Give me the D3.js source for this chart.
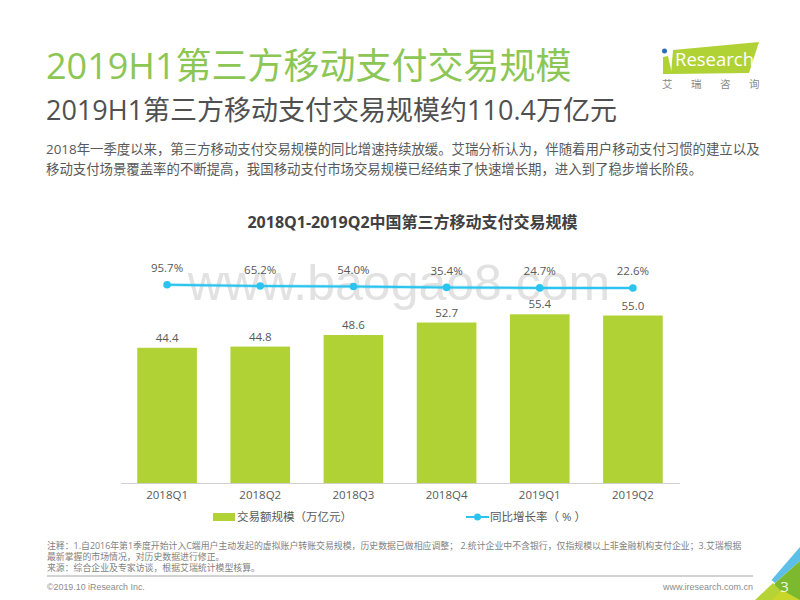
<!DOCTYPE html>
<html>
<head>
<meta charset="utf-8">
<script src="https://cdn.jsdelivr.net/npm/d3@7"></script>
<style>
  html, body { margin: 0; padding: 0; background: #fff; }
  svg { display: block; }
</style>
</head>
<body>
<script>
const quarters = ["2018Q1", "2018Q2", "2018Q3", "2018Q4", "2019Q1", "2019Q2"];
const volume = [44.4, 44.8, 48.6, 52.7, 55.4, 55.0];
const growth = [95.7, 65.2, 54.0, 35.4, 24.7, 22.6];
const bodyLines = [
  "2018年一季度以来，第三方移动支付交易规模的同比增速持续放缓。艾瑞分析认为，伴随着用户移动支付习惯的建立以及",
  "移动支付场景覆盖率的不断提高，我国移动支付市场交易规模已经结束了快速增长期，进入到了稳步增长阶段。"
];
const noteLines = [
  "注释：1.自2016年第1季度开始计入C端用户主动发起的虚拟账户转账交易规模，历史数据已做相应调整； 2.统计企业中不含银行，仅指规模以上非金融机构支付企业；3.艾瑞根据",
  "最新掌握的市场情况，对历史数据进行修正。",
  "来源：综合企业及专家访谈，根据艾瑞统计模型核算。"
];
const logoChars = ["艾", "瑞", "咨", "询"];

const width = 800;
const height = 600;
const sans = "'Open Sans', 'Noto Sans CJK SC', sans-serif";
const cjk = "'Noto Sans CJK SC', 'Open Sans', sans-serif";
const green = "#b0d235";
const blue = "#2bc4ee";
const textGrey = "#595959";

const svg = d3
  .select("body")
  .append("svg")
  .attr("width", width)
  .attr("height", height)
  .attr("viewBox", `0 0 ${width} ${height}`);

function addText(x, y, str, size, fill, opts = {}) {
  return svg
    .append("text")
    .attr("x", x)
    .attr("y", y)
    .attr("font-family", opts.family || sans)
    .attr("font-size", size)
    .attr("font-weight", opts.weight || "normal")
    .attr("text-anchor", opts.anchor || "start")
    .attr("fill", fill)
    .text(str);
}

// Watermark goes underneath the chart
addText(399, 300, "www.baogao8.com", 50, "#e2e2e2", {
  anchor: "middle",
  family: "'Liberation Sans', sans-serif"
});

// Headings
addText(46, 79, "2019H1第三方移动支付交易规模", 36, "#8cc655");
addText(46, 120, "2019H1第三方移动支付交易规模约110.4万亿元", 27, "#505050");
bodyLines.forEach((line, i) => addText(46, 154 + i * 20, line, 13.4, textGrey));

// Logo
svg.append("polygon")
  .attr("points", "673,50 759,42 749,73 671,74")
  .attr("fill", green);
svg.append("circle").attr("cx", 664.5).attr("cy", 51).attr("r", 2.5).attr("fill", "#2a6ebb");
svg.append("polygon")
  .attr("points", "663,57 668,56 672,74 663,74")
  .attr("fill", green);
addText(675, 66, "Research", 18.5, "#fff", { family: "'Open Sans', sans-serif" });
logoChars.forEach((c, i) => addText(662 + i * 29, 88, c, 10.5, "#888", { family: cjk }));

// Chart title
addText(412.5, 228, "2018Q1-2019Q2中国第三方移动支付交易规模", 16, "#404040", {
  anchor: "middle",
  weight: "bold"
});

// Scales
const xScale = d3
  .scaleBand()
  .domain(quarters)
  .range([120.5, 679.5])
  .paddingInner(0.36)
  .paddingOuter(0.18);
const yScale = d3.scaleLinear().domain([0, 60]).range([483, 300.3]);
const growthScale = d3.scaleLinear().domain([0, 100]).range([289, 284.5]);
const cx = (d) => xScale(d) + xScale.bandwidth() / 2;

// Bars
svg.append("g")
  .selectAll("rect")
  .data(quarters)
  .join("rect")
  .attr("x", (d) => xScale(d))
  .attr("y", (d, i) => yScale(volume[i]))
  .attr("width", xScale.bandwidth())
  .attr("height", (d, i) => yScale(0) - yScale(volume[i]))
  .attr("fill", green);

// Bar labels
svg.append("g")
  .selectAll("text")
  .data(quarters)
  .join("text")
  .attr("x", cx)
  .attr("y", (d, i) => yScale(volume[i]) - 6)
  .attr("text-anchor", "middle")
  .attr("font-family", sans)
  .attr("font-size", 11.5)
  .attr("fill", textGrey)
  .text((d, i) => volume[i].toFixed(1));

// Category axis
const xAxis = svg.append("g")
  .attr("transform", "translate(0, 483)")
  .call(d3.axisBottom(xScale).tickSize(0).tickPadding(8));
xAxis.select(".domain").attr("stroke", "#d0d0d0");
xAxis.selectAll("text")
  .attr("font-family", sans)
  .attr("font-size", 11.5)
  .attr("fill", textGrey);

// Growth line, with the pale halo it has in the reference
const line = d3
  .line()
  .x((d) => cx(d))
  .y((d, i) => growthScale(growth[i]));
svg.append("path")
  .datum(quarters)
  .attr("d", line)
  .attr("fill", "none")
  .attr("stroke", blue)
  .attr("stroke-opacity", 0.3)
  .attr("stroke-width", 3.6);
svg.append("path")
  .datum(quarters)
  .attr("d", line)
  .attr("fill", "none")
  .attr("stroke", blue)
  .attr("stroke-width", 2);
svg.append("g")
  .selectAll("circle")
  .data(quarters)
  .join("circle")
  .attr("cx", cx)
  .attr("cy", (d, i) => growthScale(growth[i]))
  .attr("r", 3.8)
  .attr("fill", blue);
svg.append("g")
  .selectAll("text")
  .data(quarters)
  .join("text")
  .attr("x", cx)
  .attr("y", (d, i) => growthScale(growth[i]) - 12.5)
  .attr("text-anchor", "middle")
  .attr("font-family", sans)
  .attr("font-size", 11.5)
  .attr("fill", textGrey)
  .text((d, i) => growth[i].toFixed(1) + "%");

// Legend
svg.append("rect").attr("x", 213).attr("y", 513).attr("width", 22).attr("height", 8).attr("fill", green);
addText(237, 521, "交易额规模（万亿元）", 11.5, textGrey);
svg.append("line").attr("x1", 466).attr("x2", 489).attr("y1", 517).attr("y2", 517)
  .attr("stroke", blue).attr("stroke-width", 2);
svg.append("circle").attr("cx", 477.5).attr("cy", 517).attr("r", 3.5).attr("fill", blue);
addText(490, 521, "同比增长率（ % ）", 11.5, textGrey);

// Notes and footer
noteLines.forEach((l, i) => addText(47, 549 + i * 11, l, 8.9, "#7f7f7f"));
svg.append("line").attr("x1", 47).attr("x2", 753).attr("y1", 576).attr("y2", 576)
  .attr("stroke", "#a6a6a6").attr("stroke-width", 1);
addText(47, 590, "©2019.10 iResearch Inc.", 8.9, "#8c8c8c", { family: "'Liberation Sans', sans-serif" });
addText(753, 590, "www.iresearch.com.cn", 9, "#8c8c8c", {
  anchor: "end",
  family: "'Liberation Sans', sans-serif"
});

// Corner decoration
svg.append("polygon").attr("points", "771.5,580 800,547 800,561 775,583").attr("fill", "#5bbfe8");
svg.append("polygon").attr("points", "775,583 800,561 800,600 770,600").attr("fill", "#7cb92e");
svg.append("polygon").attr("points", "755,600 773,583 790,600").attr("fill", "#b5d334");
svg.append("polygon").attr("points", "772,600 782,590 800,600").attr("fill", "#c9d62a");
addText(784.5, 592, "3", 15, "#f4f8d8", { anchor: "middle" });
</script>
</body>
</html>
